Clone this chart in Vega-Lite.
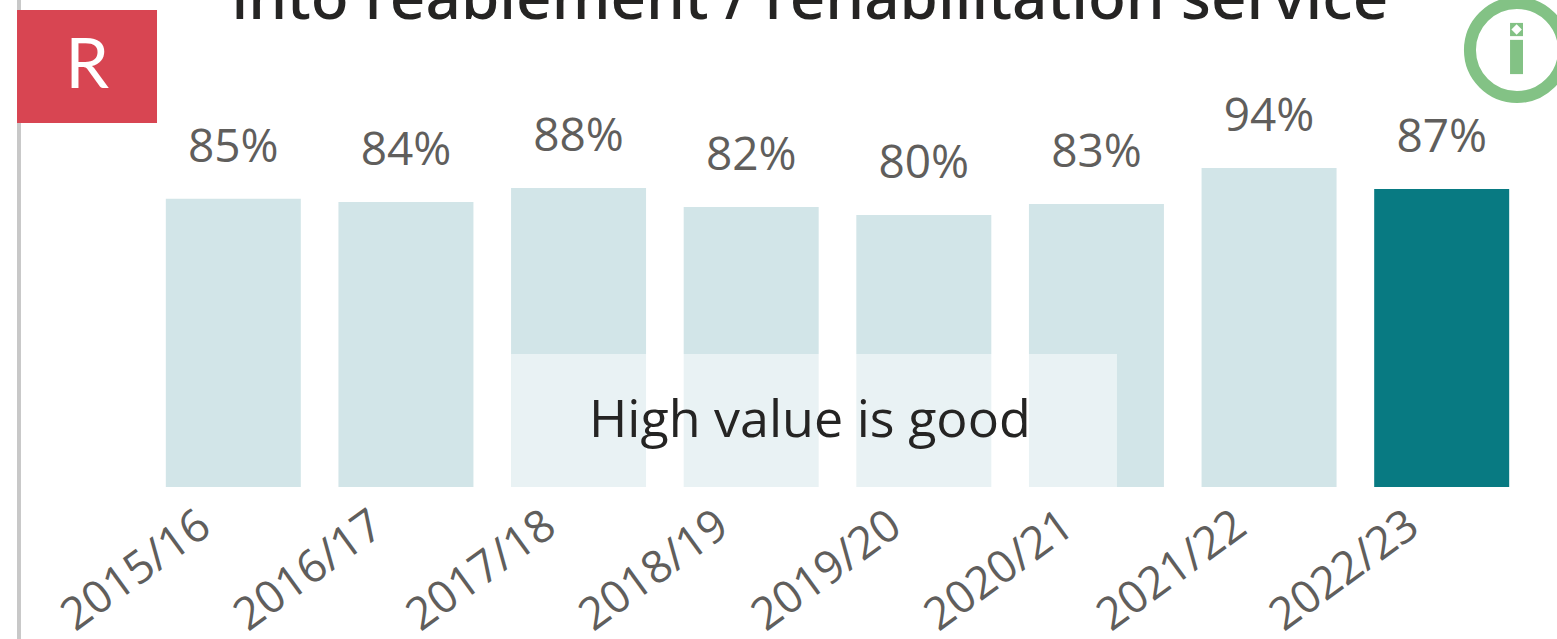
{"$schema":"https://vega.github.io/schema/vega-lite/v6.json","width":1381,"height":339,"autosize":{"type":"none"},"padding":{"left":147,"top":148,"right":29,"bottom":152},"background":"#ffffff","config":{"view":{"stroke":null}},
"layer":[
{"data":{"values":[{"a":-0.753,"b":-0.73,"c":-45,"d":144}]},"mark":{"type":"rect","color":"#C8C8C8"},"encoding":{"x":{"field":"a","type":"quantitative","scale":{"domain":[0,8],"nice":false,"zero":false},"axis":null},"x2":{"field":"b"},"y":{"field":"c","type":"quantitative","scale":{"domain":[0,100],"nice":false},"axis":null},"y2":{"field":"d"}}},
{"data":{"values":[{"year":"2015/16","value":85,"label":"85%","cur":"n"},{"year":"2016/17","value":84.1,"label":"84%","cur":"n"},{"year":"2017/18","value":88.2,"label":"88%","cur":"n"},{"year":"2018/19","value":82.6,"label":"82%","cur":"n"},{"year":"2019/20","value":80.2,"label":"80%","cur":"n"},{"year":"2020/21","value":83.5,"label":"83%","cur":"n"},{"year":"2021/22","value":94.1,"label":"94%","cur":"n"},{"year":"2022/23","value":87.9,"label":"87%","cur":"y"}]},
"encoding":{"x":{"field":"year","type":"nominal","sort":null,"scale":{"paddingInner":0.218,"paddingOuter":0.109},"axis":{"title":null,"domain":false,"ticks":false,"labelAngle":-36,"labelAlign":"right","labelBaseline":"middle","labelFont":"Open Sans","labelFontSize":45,"labelColor":"#605E5C","labelPadding":33,"labelOffset":-28,"labelOverlap":false}},"y":{"field":"value","type":"quantitative","scale":{"domain":[0,100],"nice":false},"axis":null}},
"layer":[
{"mark":{"type":"bar"},"encoding":{"color":{"field":"cur","type":"nominal","scale":{"domain":["n","y"],"range":["#D2E5E8","#087A82"]},"legend":null}}},
{"mark":{"type":"text","font":"Open Sans","fontSize":46,"color":"#605E5C","baseline":"alphabetic","dy":-37},"encoding":{"text":{"field":"label"}}}
]},
{"data":{"values":[{"a":2.109,"b":5.619,"c":0,"d":39.2}]},"mark":{"type":"rect","color":"#ffffff","opacity":0.5},"encoding":{"x":{"field":"a","type":"quantitative","scale":{"domain":[0,8],"nice":false,"zero":false},"axis":null},"x2":{"field":"b"},"y":{"field":"c","type":"quantitative","scale":{"domain":[0,100],"nice":false},"axis":null},"y2":{"field":"d"}}},
{"data":{"values":[{"a":-0.753,"b":0.058,"c":107.4,"d":140.7,"color":"#D84552"},{"a":7.896,"b":7.971,"c":121.8,"d":131.9,"color":"#83C285"},{"a":7.896,"b":7.971,"c":133,"d":136.9,"color":"#83C285"}]},"mark":{"type":"rect"},"encoding":{"x":{"field":"a","type":"quantitative","scale":{"domain":[0,8],"nice":false,"zero":false},"axis":null},"x2":{"field":"b"},"y":{"field":"c","type":"quantitative","scale":{"domain":[0,100],"nice":false},"axis":null},"y2":{"field":"d"},"color":{"field":"color","type":"nominal","scale":null,"legend":null}}},
{"data":{"values":[{"a":7.936,"c":128.9}]},"mark":{"type":"point","shape":"circle","size":8836,"filled":false,"stroke":"#83C285","strokeWidth":12,"opacity":1},"encoding":{"x":{"field":"a","type":"quantitative","scale":{"domain":[0,8],"nice":false,"zero":false},"axis":null},"y":{"field":"c","type":"quantitative","scale":{"domain":[0,100],"nice":false},"axis":null}}},
{"data":{"values":[{"a":7.934,"c":134.96}]},"mark":{"type":"point","shape":"diamond","size":110,"filled":true,"color":"#ffffff","opacity":1},"encoding":{"x":{"field":"a","type":"quantitative","scale":{"domain":[0,8],"nice":false,"zero":false},"axis":null},"y":{"field":"c","type":"quantitative","scale":{"domain":[0,100],"nice":false},"axis":null}}},
{"data":{"values":[{"a":3.84,"c":19.6,"t":"High value is good"}]},"mark":{"type":"text","font":"Open Sans","fontSize":52,"color":"#252423","baseline":"middle"},"encoding":{"x":{"field":"a","type":"quantitative","scale":{"domain":[0,8],"nice":false,"zero":false},"axis":null},"y":{"field":"c","type":"quantitative","scale":{"domain":[0,100],"nice":false},"axis":null},"text":{"field":"t"}}},
{"data":{"values":[{"a":3.84,"c":138.1,"t":"into reablement / rehabilitation service"}]},"mark":{"type":"text","font":"Noto Sans","fontSize":62,"fontWeight":500,"color":"#252423","baseline":"alphabetic"},"encoding":{"x":{"field":"a","type":"quantitative","scale":{"domain":[0,8],"nice":false,"zero":false},"axis":null},"y":{"field":"c","type":"quantitative","scale":{"domain":[0,100],"nice":false},"axis":null},"text":{"field":"t"}}},
{"data":{"values":[{"a":-0.347,"c":123.9,"t":"R"}]},"mark":{"type":"text","font":"Lato","fontSize":70,"color":"#ffffff","baseline":"middle"},"encoding":{"x":{"field":"a","type":"quantitative","scale":{"domain":[0,8],"nice":false,"zero":false},"axis":null},"y":{"field":"c","type":"quantitative","scale":{"domain":[0,100],"nice":false},"axis":null},"text":{"field":"t"}}}
],
"resolve":{"scale":{"x":"independent"}}}
